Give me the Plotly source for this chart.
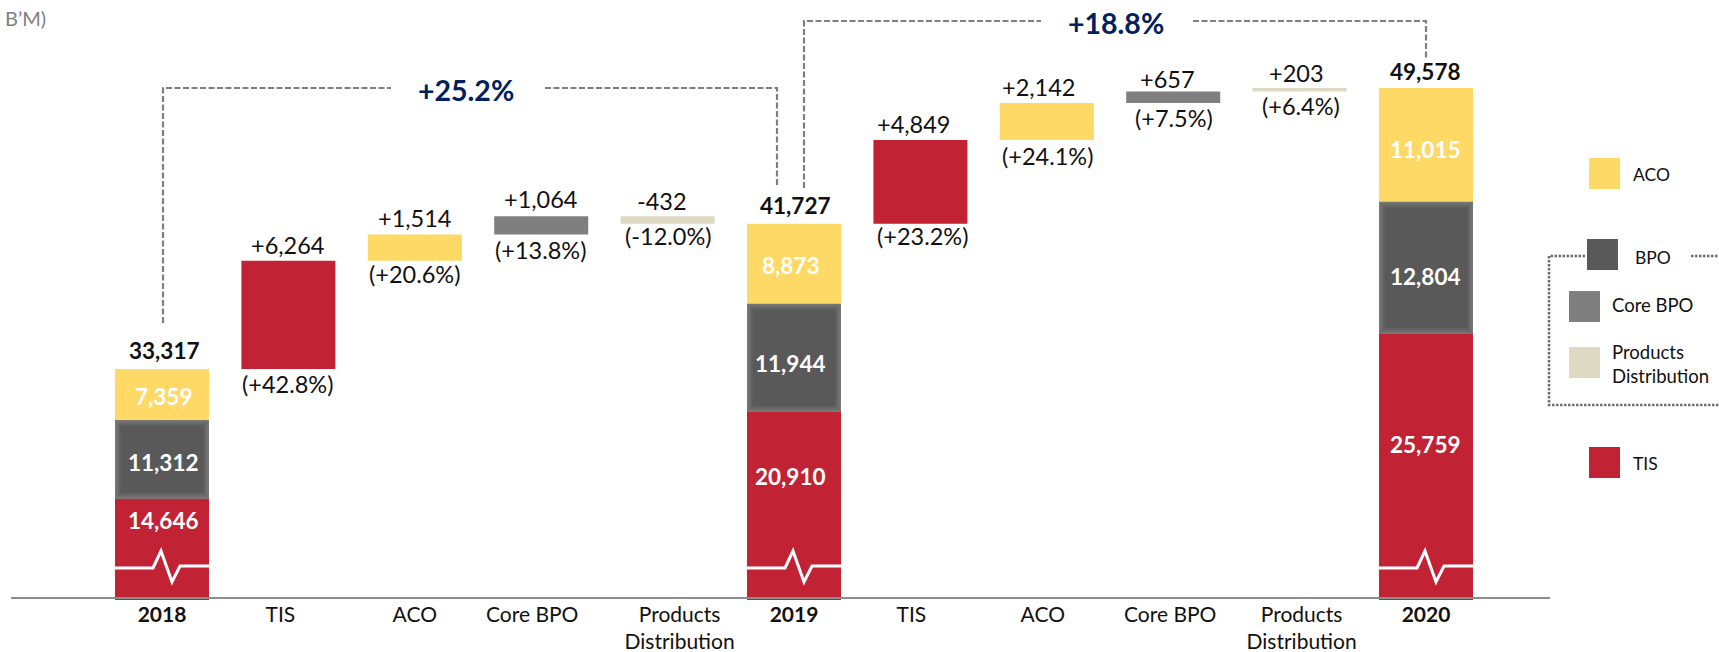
import plotly.graph_objects as go

# ---------- data ----------
categories = ["<b>2018</b>", "TIS", "ACO", "Core BPO", "Products<br>Distribution", "<b>2019</b>",
              "TIS", "ACO", "Core BPO", "Products<br>Distribution", "<b>2020</b>"]
column_pos = [0, 5, 10]
column_tis = [14646, 20910, 25759]
column_bpo = [11312, 11944, 12804]
column_aco = [7359, 8873, 11015]
column_total = [33317, 41727, 49578]
column_names = ["2018", "2019", "2020"]
delta_pos = [1, 2, 3, 4, 6, 7, 8, 9]
delta_values = [6264, 1514, 1064, -432, 4849, 2142, 657, 203]
delta_kinds = ["TIS", "ACO", "Core BPO", "Products Distribution",
               "TIS", "ACO", "Core BPO", "Products Distribution"]
delta_text = ["+6,264", "+1,514", "+1,064", "-432", "+4,849", "+2,142", "+657", "+203"]
delta_pct = ["(+42.8%)", "(+20.6%)", "(+13.8%)", "(-12.0%)", "(+23.2%)", "(+24.1%)", "(+7.5%)", "(+6.4%)"]
growth_text = ["+25.2%", "+18.8%"]
axis_break = 19950   # the value axis is cut here in the picture

# ---------- styling ----------
W, H = 1719, 652
X0, X1, Y_BASE, Y_AXIS = 11, 1550, 600, 598
STEP = 126.4
CENTER0 = 162
PX_PER_UNIT = 0.01728
BAR_W = 94 / STEP
FONT = "Lato, Carlito, Calibri, sans-serif"
FS = 23.5
FS_BOLD = 22.5
FS_TICK = 21
COL = {"TIS": "#C12335", "ACO": "#FFD966", "BPO": "#595959",
       "Core BPO": "#7F7F7F", "Products Distribution": "#DDD9C3"}
INK = "#111111"

tick_shift = [0, -8, 0, -9, 12, 0, -9, -4, -3, 2, 0]
total_dx = [2, 1, -1]
total_dy = [19, 18, 17]
aco_dy = [-2, -2, -5]
bpo_dy = [-3, -6, -9]
tis_dy = [29, 29, 23]
inner_dx = [1, -4, -1]
top_dx = [-1, 0, -1, -6, -7, -8, -6, -3]
top_dy = [16, 17, 17, 15, 16, 16, 13, 15]
pct_dx = [-1, 0, -1, 1, 2, 1, 1, 1]
pct_dy = [-15, -13, -15, -12, -12, -16, -15, -14]


def yv(px):      # page pixel -> axis value
    return axis_break + (Y_BASE - px) / PX_PER_UNIT


def xv(px):      # page pixel -> axis position
    return (px - CENTER0) / STEP


def xp(px):      # page pixel -> paper x
    return (px - X0) / (X1 - X0)


def yp(px):      # page pixel -> paper y
    return (Y_BASE - px) / Y_BASE


fig = go.Figure()

# stacked columns, shrunk in proportion because the axis is cut
scale = [(t - axis_break) / t for t in column_total]
h_tis = [v * s for v, s in zip(column_tis, scale)]
h_bpo = [v * s for v, s in zip(column_bpo, scale)]
h_aco = [v * s for v, s in zip(column_aco, scale)]
base_tis = [axis_break] * 3
base_bpo = [b + h for b, h in zip(base_tis, h_tis)]
base_aco = [b + h for b, h in zip(base_bpo, h_bpo)]
for name, h, b in (("TIS", h_tis, base_tis), ("BPO", h_bpo, base_bpo), ("ACO", h_aco, base_aco)):
    fig.add_trace(go.Bar(x=column_pos, y=h, base=b, width=BAR_W, name=name,
                         marker=dict(color=COL[name], line_width=0), showlegend=False))

# floating bars
running = []
level = column_total[0]
for p, d in zip(delta_pos, delta_values):
    if p == 6:
        level = column_total[1]
    running.append(level)
    level += d
for kind in ["TIS", "ACO", "Core BPO", "Products Distribution"]:
    idx = [i for i, k in enumerate(delta_kinds) if k == kind]
    fig.add_trace(go.Bar(x=[delta_pos[i] for i in idx], y=[delta_values[i] for i in idx],
                         base=[running[i] for i in idx], width=BAR_W, name=kind,
                         marker=dict(color=COL[kind], line_width=0), showlegend=False))

shapes = []
ann = []

# soft glow on the BPO segment
GLOW = 7
for p, b, h in zip(column_pos, base_bpo, h_bpo):
    for k in range(GLOW):
        c = 0x7C + (0x59 - 0x7C) * (k + 1) // GLOW
        dx = k * 1.0 / STEP
        dy = k * 1.0 / PX_PER_UNIT
        shapes.append(dict(type="rect", xref="x", yref="y", layer="above",
                           x0=p - BAR_W / 2 + dx, x1=p + BAR_W / 2 - dx, y0=b + dy, y1=b + h - dy,
                           line_width=0, fillcolor=f"rgb({c},{c},{c})"))

# white pulse on the red segments
pulse = "M -47,32 L -9,32 L -1,49 L 10,18 L 18,34 L 47,34"
for p in column_pos:
    shapes.append(dict(type="path", xref="x", yref="y", xsizemode="pixel", ysizemode="pixel",
                       xanchor=p, yanchor=axis_break, path=pulse, layer="above",
                       line=dict(color="white", width=3)))

# axis line drawn over the bar feet
shapes.append(dict(type="line", xref="x", yref="y", x0=xv(X0), x1=xv(X1), y0=yv(Y_AXIS), y1=yv(Y_AXIS),
                   layer="above", line=dict(color="#8C8C8C", width=2)))


# growth brackets
def dash_line(pts, color="#7F7F7F", width=2.2, dash="6px,2.5px"):
    d = "M " + " L ".join(f"{xv(x)},{yv(y)}" for x, y in pts)
    shapes.append(dict(type="path", xref="x", yref="y", path=d, layer="above",
                       line=dict(color=color, width=width, dash=dash)))

dash_line([(163, 323), (163, 88), (391, 88)])
dash_line([(545, 88), (777, 88), (777, 186)])
dash_line([(804, 188), (804, 21), (1041, 21)])
dash_line([(1193, 21), (1426, 21), (1426, 59)])


def text(x, y, s, size=FS, color=INK, bold=False, anchor="center", xshift=0, yshift=0):
    ann.append(dict(xref="x", yref="y", x=x, y=y, text=f"<b>{s}</b>" if bold else s, showarrow=False,
                    xanchor=anchor, yanchor="middle", xshift=xshift, yshift=yshift,
                    font=dict(family=FONT, size=size, color=color)))


# growth labels
text(xv(466), yv(90), growth_text[0], size=28.5, color="#002060", bold=True)
text(xv(1116), yv(23), growth_text[1], size=28.5, color="#002060", bold=True)

# column labels
for i, p in enumerate(column_pos):
    text(p, column_total[i], f"{column_total[i]:,}", size=FS_BOLD, bold=True, xshift=total_dx[i], yshift=total_dy[i])
    text(p, base_aco[i] + h_aco[i] / 2, f"{column_aco[i]:,}", size=FS_BOLD, color="white", bold=True, xshift=inner_dx[i], yshift=aco_dy[i])
    text(p, base_bpo[i] + h_bpo[i] / 2, f"{column_bpo[i]:,}", size=FS_BOLD, color="white", bold=True, xshift=inner_dx[i], yshift=bpo_dy[i])
    text(p, base_tis[i] + h_tis[i] / 2, f"{column_tis[i]:,}", size=FS_BOLD, color="white", bold=True, xshift=inner_dx[i], yshift=tis_dy[i])

# delta labels
for i, p in enumerate(delta_pos):
    top = max(running[i], running[i] + delta_values[i])
    bot = min(running[i], running[i] + delta_values[i])
    text(p, top, delta_text[i], xshift=top_dx[i], yshift=top_dy[i])
    text(p, bot, delta_pct[i], xshift=pct_dx[i], yshift=pct_dy[i])

# page note
ann.append(dict(xref="paper", yref="paper", x=xp(3), y=yp(18), text="B’M)", showarrow=False,
                xanchor="left", yanchor="middle", font=dict(family=FONT, size=20, color="#7F7F7F")))

# hand-built legend
legend_names = ["ACO", "BPO", "Core BPO", "Products<br>Distribution", "TIS"]
legend_keys = ["ACO", "BPO", "Core BPO", "Products Distribution", "TIS"]
legend_sq = [(1589, 158), (1587, 239), (1569, 291), (1569, 347), (1589, 447)]
legend_tx = [(1631, 174), (1633, 257), (1610, 305), (1610, 364), (1631, 463)]
legend_fs = [17.5, 17.5, 18.5, 18.5, 17.5]
for nm, key, (sx, sy), (tx, ty), fs in zip(legend_names, legend_keys, legend_sq, legend_tx, legend_fs):
    shapes.append(dict(type="rect", xref="paper", yref="paper", x0=xp(sx), x1=xp(sx + 31),
                       y0=yp(sy), y1=yp(sy + 31), line_width=0, fillcolor=COL[key]))
    ann.append(dict(xref="paper", yref="paper", x=xp(tx), y=yp(ty), text=nm, showarrow=False, align="left",
                    xanchor="left", yanchor="middle", font=dict(family=FONT, size=fs, color=INK)))

for pts in ([(1585, 256), (1549, 256), (1549, 405), (1719, 405)], [(1691, 256), (1719, 256)]):
    d = "M " + " L ".join(f"{xp(x)},{yp(y)}" for x, y in pts)
    shapes.append(dict(type="path", xref="paper", yref="paper", path=d,
                       line=dict(color="#6E6E6E", width=2.5, dash="2.5px,1.5px")))

fig.update_layout(
    width=W, height=H, autosize=False, barmode="overlay", showlegend=False,
    paper_bgcolor="white", plot_bgcolor="white",
    margin=dict(l=X0, r=W - X1, t=0, b=H - Y_BASE, pad=0),
    font=dict(family=FONT, color=INK),
    shapes=shapes, annotations=ann,
    xaxis=dict(range=[xv(X0), xv(X1)], tickmode="array",
               tickvals=[i + s / STEP for i, s in enumerate(tick_shift)], ticktext=categories,
               tickangle=0, ticks="", showgrid=False, zeroline=False, showline=False,
               tickfont=dict(family=FONT, size=FS_TICK, color=INK)),
    yaxis=dict(range=[axis_break, yv(0)], visible=False, showgrid=False, zeroline=False),
)

fig.write_html("out.html", config={"displayModeBar": False},
               post_script="document.body.style.margin='0';document.body.style.overflow='hidden';")
